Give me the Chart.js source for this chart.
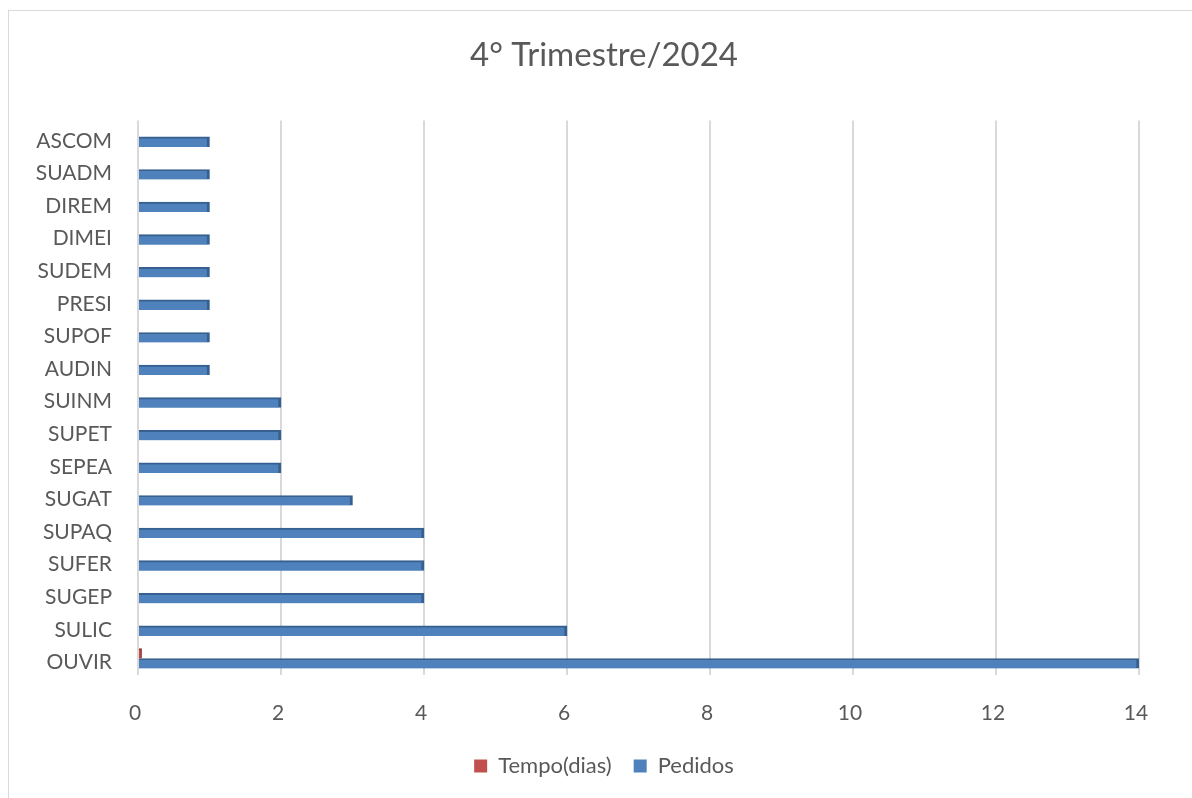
<!DOCTYPE html>
<html>
<head>
<meta charset="utf-8">
<script src="https://cdn.jsdelivr.net/npm/chart.js@4"></script>
<style>
  body { margin: 0; background: #fff; overflow: hidden; }
  #frame { position: absolute; left: 8px; top: 10px; width: 1300px; height: 900px; border: 1px solid #d9d9d9; }
  #wrap { position: absolute; left: 0; top: 0; width: 1192px; height: 798px; }
</style>
</head>
<body>
<div id="frame"></div>
<div id="wrap"><canvas id="chart"></canvas></div>
<script>
// Categories, top to bottom
const categories = ['ASCOM', 'SUADM', 'DIREM', 'DIMEI', 'SUDEM', 'PRESI', 'SUPOF', 'AUDIN',
                    'SUINM', 'SUPET', 'SEPEA', 'SUGAT', 'SUPAQ', 'SUFER', 'SUGEP', 'SULIC', 'OUVIR'];
const tempoDias = [0, 0, 0, 0, 0, 0, 0, 0, 0, 0, 0, 0, 0, 0, 0, 0, 0.05];
const pedidos   = [1, 1, 1, 1, 1, 1, 1, 1, 2, 2, 2, 3, 4, 4, 4, 6, 14];
const xTicks    = [0, 2, 4, 6, 8, 10, 12, 14];

const textColor = '#595959';
const font = 'Lato, "Open Sans", sans-serif';

// title and legend are centred on the whole frame, not on the plot
const shiftBlocks = {
  id: 'shiftBlocks',
  afterLayout(chart) {
    [chart.titleBlock, chart.legend].forEach(b => {
      if (!b) return;
      b.left = 69;
      b.width = b.right - b.left;
    });
    if (chart.legend) {
      chart.legend.top -= 19;
      chart.legend.bottom -= 19;
    }
  }
};

const ctx = document.getElementById('chart').getContext('2d');
new Chart(ctx, {
  type: 'bar',
  data: {
    labels: categories,
    datasets: [
      {
        label: 'Tempo(dias)',
        data: tempoDias,
        backgroundColor: '#c0504d',
        borderColor: '#8c2f2c',
        borderWidth: { top: 2, right: 2, bottom: 0, left: 0 },
        borderSkipped: false,
        barThickness: 10
      },
      {
        label: 'Pedidos',
        data: pedidos,
        backgroundColor: '#4f81bd',
        borderColor: '#35608f',
        borderWidth: { top: 2, right: 3, bottom: 0, left: 0 },
        borderSkipped: false,
        barThickness: 10
      }
    ]
  },
  plugins: [shiftBlocks],
  options: {
    indexAxis: 'y',
    responsive: true,
    maintainAspectRatio: false,
    animation: false,
    layout: { padding: { left: 0, right: 53, top: 0, bottom: 0 } },
    plugins: {
      title: {
        display: true,
        text: '4° Trimestre/2024',
        color: textColor,
        font: { family: font, size: 33, weight: 'normal' },
        padding: { top: 36, bottom: 45 }
      },
      legend: {
        position: 'bottom',
        maxHeight: 46,
        labels: {
          color: textColor,
          font: { family: font, size: 22 },
          boxWidth: 13,
          boxHeight: 13,
          padding: 22,
          generateLabels: chart => chart.data.datasets.map((d, i) => ({
            text: d.label,
            fillStyle: d.backgroundColor,
            strokeStyle: d.backgroundColor,
            lineWidth: 0,
            fontColor: textColor,
            datasetIndex: i
          }))
        }
      },
      tooltip: { enabled: false }
    },
    scales: {
      x: {
        min: 0,
        max: 14,
        afterBuildTicks: scale => { scale.ticks = xTicks.map(v => ({ value: v })); },
        grid: { color: '#d9d9d9', lineWidth: 2, drawTicks: false },
        border: { display: false },
        ticks: { color: textColor, font: { family: font, size: 21 }, padding: 26, labelOffset: -3 }
      },
      y: {
        afterFit: scale => { scale.width = 138; },
        grid: { display: false, drawTicks: false },
        border: { display: false },
        ticks: { color: textColor, font: { family: font, size: 21 }, padding: 26, labelOffset: 4 }
      }
    }
  }
});
</script>
</body>
</html>
